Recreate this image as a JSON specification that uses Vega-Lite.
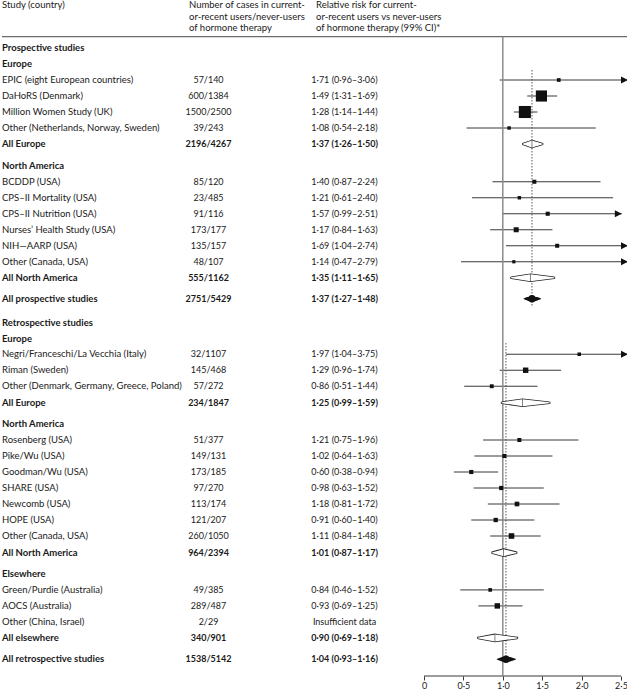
{
  "$schema": "https://vega.github.io/schema/vega-lite/v6.json",
  "padding": {"left": 1, "top": 0, "right": 0, "bottom": 0},
  "bounds": "flush",
  "spacing": 0,
  "config": {
    "view": {"stroke": null},
    "font": "Lato",
    "text": {"font": "Lato", "fontSize": 9.5, "color": "#1a1a1a"},
    "concat": {"spacing": 0}
  },
  "datasets": {
    "rows": [
      {"row": 0, "type": "header", "study": "Prospective studies"},
      {"row": 1, "type": "header", "study": "Europe"},
      {"row": 2, "type": "study", "study": "EPIC (eight European countries)", "cases": "57/140", "rr": "1·71 (0·96–3·06)", "est": 1.71, "lo": 0.96, "hi": 3.06, "weight": 19.8},
      {"row": 3, "type": "study", "study": "DaHoRS (Denmark)", "cases": "600/1384", "rr": "1·49 (1·31–1·69)", "est": 1.49, "lo": 1.31, "hi": 1.69, "weight": 409},
      {"row": 4, "type": "study", "study": "Million Women Study (UK)", "cases": "1500/2500", "rr": "1·28 (1·14–1·44)", "est": 1.28, "lo": 1.14, "hi": 1.44, "weight": 486},
      {"row": 5, "type": "study", "study": "Other (Netherlands, Norway, Sweden)", "cases": "39/243", "rr": "1·08 (0·54–2·18)", "est": 1.08, "lo": 0.54, "hi": 2.18, "weight": 13.6},
      {"row": 6, "type": "subtotal", "study": "All Europe", "cases": "2196/4267", "rr": "1·37 (1·26–1·50)", "est": 1.37, "lo": 1.26, "hi": 1.50},
      {"row": 7.36, "type": "header", "study": "North America"},
      {"row": 8.36, "type": "study", "study": "BCDDP (USA)", "cases": "85/120", "rr": "1·40 (0·87–2·24)", "est": 1.40, "lo": 0.87, "hi": 2.24, "weight": 29.7},
      {"row": 9.36, "type": "study", "study": "CPS–II Mortality (USA)", "cases": "23/485", "rr": "1·21 (0·61–2·40)", "est": 1.21, "lo": 0.61, "hi": 2.40, "weight": 14.1},
      {"row": 10.36, "type": "study", "study": "CPS–II Nutrition (USA)", "cases": "91/116", "rr": "1·57 (0·99–2·51)", "est": 1.57, "lo": 0.99, "hi": 2.51, "weight": 30.7},
      {"row": 11.36, "type": "study", "study": "Nurses’ Health Study (USA)", "cases": "173/177", "rr": "1·17 (0·84–1·63)", "est": 1.17, "lo": 0.84, "hi": 1.63, "weight": 60.4},
      {"row": 12.36, "type": "study", "study": "NIH—AARP (USA)", "cases": "135/157", "rr": "1·69 (1·04–2·74)", "est": 1.69, "lo": 1.04, "hi": 2.74, "weight": 28.3},
      {"row": 13.36, "type": "study", "study": "Other (Canada, USA)", "cases": "48/107", "rr": "1·14 (0·47–2·79)", "est": 1.14, "lo": 0.47, "hi": 2.79, "weight": 8.4},
      {"row": 14.36, "type": "subtotal", "study": "All North America", "cases": "555/1162", "rr": "1·35 (1·11–1·65)", "est": 1.35, "lo": 1.11, "hi": 1.65},
      {"row": 15.67, "type": "total", "study": "All prospective studies", "cases": "2751/5429", "rr": "1·37 (1·27–1·48)", "est": 1.37, "lo": 1.27, "hi": 1.48},
      {"row": 17.16, "type": "header", "study": "Retrospective studies"},
      {"row": 18.16, "type": "header", "study": "Europe"},
      {"row": 19.14, "type": "study", "study": "Negri/Franceschi/La Vecchia (Italy)", "cases": "32/1107", "rr": "1·97 (1·04–3·75)", "est": 1.97, "lo": 1.04, "hi": 3.75, "weight": 16.1},
      {"row": 20.14, "type": "study", "study": "Riman (Sweden)", "cases": "145/468", "rr": "1·29 (0·96–1·74)", "est": 1.29, "lo": 0.96, "hi": 1.74, "weight": 75},
      {"row": 21.14, "type": "study", "study": "Other (Denmark, Germany, Greece, Poland)", "cases": "57/272", "rr": "0·86 (0·51–1·44)", "est": 0.86, "lo": 0.51, "hi": 1.44, "weight": 24.6},
      {"row": 22.17, "type": "subtotal", "study": "All Europe", "cases": "234/1847", "rr": "1·25 (0·99–1·59)", "est": 1.25, "lo": 0.99, "hi": 1.59},
      {"row": 23.5, "type": "header", "study": "North America"},
      {"row": 24.5, "type": "study", "study": "Rosenberg (USA)", "cases": "51/377", "rr": "1·21 (0·75–1·96)", "est": 1.21, "lo": 0.75, "hi": 1.96, "weight": 28.8},
      {"row": 25.5, "type": "study", "study": "Pike/Wu (USA)", "cases": "149/131", "rr": "1·02 (0·64–1·63)", "est": 1.02, "lo": 0.64, "hi": 1.63, "weight": 30.4},
      {"row": 26.5, "type": "study", "study": "Goodman/Wu (USA)", "cases": "173/185", "rr": "0·60 (0·38–0·94)", "est": 0.60, "lo": 0.38, "hi": 0.94, "weight": 32.4},
      {"row": 27.5, "type": "study", "study": "SHARE (USA)", "cases": "97/270", "rr": "0·98 (0·63–1·52)", "est": 0.98, "lo": 0.63, "hi": 1.52, "weight": 34.2},
      {"row": 28.5, "type": "study", "study": "Newcomb (USA)", "cases": "113/174", "rr": "1·18 (0·81–1·72)", "est": 1.18, "lo": 0.81, "hi": 1.72, "weight": 46.8},
      {"row": 29.5, "type": "study", "study": "HOPE (USA)", "cases": "121/207", "rr": "0·91 (0·60–1·40)", "est": 0.91, "lo": 0.60, "hi": 1.40, "weight": 37},
      {"row": 30.5, "type": "study", "study": "Other (Canada, USA)", "cases": "260/1050", "rr": "1·11 (0·84–1·48)", "est": 1.11, "lo": 0.84, "hi": 1.48, "weight": 82.7},
      {"row": 31.54, "type": "subtotal", "study": "All North America", "cases": "964/2394", "rr": "1·01 (0·87–1·17)", "est": 1.01, "lo": 0.87, "hi": 1.17},
      {"row": 32.87, "type": "header", "study": "Elsewhere"},
      {"row": 33.87, "type": "study", "study": "Green/Purdie (Australia)", "cases": "49/385", "rr": "0·84 (0·46–1·52)", "est": 0.84, "lo": 0.46, "hi": 1.52, "weight": 18.6},
      {"row": 34.87, "type": "study", "study": "AOCS (Australia)", "cases": "289/487", "rr": "0·93 (0·69–1·25)", "est": 0.93, "lo": 0.69, "hi": 1.25, "weight": 75.2},
      {"row": 35.87, "type": "nodata", "study": "Other (China, Israel)", "cases": "2/29", "rr": "Insufficient data"},
      {"row": 36.87, "type": "subtotal", "study": "All elsewhere", "cases": "340/901", "rr": "0·90 (0·69–1·18)", "est": 0.90, "lo": 0.69, "hi": 1.18},
      {"row": 38.2, "type": "total", "study": "All retrospective studies", "cases": "1538/5142", "rr": "1·04 (0·93–1·16)", "est": 1.04, "lo": 0.93, "hi": 1.16}
    ]
  },
  "hconcat": [
    {
      "width": 187, "height": 676,
      "data": {"name": "rows"},
      "layer": [
        {"data": {"values": [{}]}, "mark": {"type": "rule", "color": "#6b6b6b", "strokeWidth": 1.2},
         "encoding": {"y": {"datum": -0.71, "type": "quantitative", "scale": {"domain": [-3, 39.25], "reverse": true, "nice": false, "zero": false}, "axis": null}}},
        {"data": {"values": [{}]}, "mark": {"type": "text", "align": "left", "baseline": "top", "lineHeight": 11.7},
         "encoding": {"x": {"datum": 0, "type": "quantitative", "scale": {"domain": [0, 1]}, "axis": null},
                      "y": {"datum": -3, "type": "quantitative", "scale": {"domain": [-3, 39.25], "reverse": true, "nice": false, "zero": false}, "axis": null},
                      "text": {"value": "Study (country)"}}},
        {"transform": [{"filter": "datum.type === 'study' || datum.type === 'nodata'"}],
         "mark": {"type": "text", "align": "left", "baseline": "middle"},
         "encoding": {"x": {"datum": 0, "type": "quantitative", "scale": {"domain": [0, 1]}, "axis": null},
                      "y": {"field": "row", "type": "quantitative", "scale": {"domain": [-3, 39.25], "reverse": true, "nice": false, "zero": false}, "axis": null},
                      "text": {"field": "study"}}},
        {"transform": [{"filter": "datum.type !== 'study' && datum.type !== 'nodata'"}],
         "mark": {"type": "text", "align": "left", "baseline": "middle", "fontWeight": "bold"},
         "encoding": {"x": {"datum": 0, "type": "quantitative", "scale": {"domain": [0, 1]}, "axis": null},
                      "y": {"field": "row", "type": "quantitative", "scale": {"domain": [-3, 39.25], "reverse": true, "nice": false, "zero": false}, "axis": null},
                      "text": {"field": "study"}}}
      ]
    },
    {
      "width": 39, "height": 676,
      "data": {"name": "rows"},
      "layer": [
        {"data": {"values": [{}]}, "mark": {"type": "rule", "color": "#6b6b6b", "strokeWidth": 1.2},
         "encoding": {"y": {"datum": -0.71, "type": "quantitative", "scale": {"domain": [-3, 39.25], "reverse": true, "nice": false, "zero": false}, "axis": null}}},
        {"data": {"values": [{}]}, "mark": {"type": "text", "align": "left", "baseline": "top", "lineHeight": 11.7},
         "encoding": {"x": {"datum": 0, "type": "quantitative", "scale": {"domain": [0, 1]}, "axis": null},
                      "y": {"datum": -3, "type": "quantitative", "scale": {"domain": [-3, 39.25], "reverse": true, "nice": false, "zero": false}, "axis": null},
                      "text": {"value": ["Number of cases in current-", "or-recent users/never-users", "of hormone therapy"]}}},
        {"transform": [{"filter": "datum.type === 'study' || datum.type === 'nodata'"}],
         "mark": {"type": "text", "align": "center", "baseline": "middle", "fontSize": 9},
         "encoding": {"y": {"field": "row", "type": "quantitative", "scale": {"domain": [-3, 39.25], "reverse": true, "nice": false, "zero": false}, "axis": null},
                      "text": {"field": "cases"}}},
        {"transform": [{"filter": "datum.type === 'subtotal' || datum.type === 'total'"}],
         "mark": {"type": "text", "align": "center", "baseline": "middle", "fontWeight": "bold", "fontSize": 9},
         "encoding": {"y": {"field": "row", "type": "quantitative", "scale": {"domain": [-3, 39.25], "reverse": true, "nice": false, "zero": false}, "axis": null},
                      "text": {"field": "cases"}}}
      ]
    },
    {
      "width": 88, "height": 676,
      "data": {"values": [{}]},
      "mark": {"type": "rule", "color": "#6b6b6b", "strokeWidth": 1.2},
      "encoding": {"y": {"datum": -0.71, "type": "quantitative", "scale": {"domain": [-3, 39.25], "reverse": true, "nice": false, "zero": false}, "axis": null}}
    },
    {
      "width": 57, "height": 676,
      "data": {"name": "rows"},
      "layer": [
        {"data": {"values": [{}]}, "mark": {"type": "rule", "color": "#6b6b6b", "strokeWidth": 1.2},
         "encoding": {"y": {"datum": -0.71, "type": "quantitative", "scale": {"domain": [-3, 39.25], "reverse": true, "nice": false, "zero": false}, "axis": null}}},
        {"data": {"values": [{}]}, "mark": {"type": "text", "align": "left", "baseline": "top", "lineHeight": 11.7},
         "encoding": {"x": {"datum": 0, "type": "quantitative", "scale": {"domain": [0, 1]}, "axis": null},
                      "y": {"datum": -3, "type": "quantitative", "scale": {"domain": [-3, 39.25], "reverse": true, "nice": false, "zero": false}, "axis": null},
                      "text": {"value": ["Relative risk for current-", "or-recent users vs never-users", "of hormone therapy (99% CI)*"]}}},
        {"transform": [{"filter": "datum.type === 'study' || datum.type === 'nodata'"}],
         "mark": {"type": "text", "align": "center", "baseline": "middle", "fontSize": 9},
         "encoding": {"y": {"field": "row", "type": "quantitative", "scale": {"domain": [-3, 39.25], "reverse": true, "nice": false, "zero": false}, "axis": null},
                      "text": {"field": "rr"}}},
        {"transform": [{"filter": "datum.type === 'subtotal' || datum.type === 'total'"}],
         "mark": {"type": "text", "align": "center", "baseline": "middle", "fontWeight": "bold", "fontSize": 9},
         "encoding": {"y": {"field": "row", "type": "quantitative", "scale": {"domain": [-3, 39.25], "reverse": true, "nice": false, "zero": false}, "axis": null},
                      "text": {"field": "rr"}}}
      ]
    },
    {
      "width": 255, "height": 676,
      "data": {"name": "rows"},
      "layer": [
        {"data": {"values": [{}]}, "mark": {"type": "rule", "color": "#6b6b6b", "strokeWidth": 1.2},
         "encoding": {"y": {"datum": -0.71, "type": "quantitative", "scale": {"domain": [-3, 39.25], "reverse": true, "nice": false, "zero": false}, "axis": null}}},
        {"transform": [{"filter": "datum.type === 'study' && isValid(datum.est)"}],
         "mark": {"type": "rule", "color": "#222222", "strokeWidth": 0.9},
         "encoding": {
           "x": {"field": "lo", "type": "quantitative", "title": null,
                 "scale": {"domain": [-0.6472, 2.5888], "nice": false, "zero": false, "clamp": true},
                 "axis": {"values": [0, 0.5, 1, 1.5, 2, 2.5], "labelExpr": "datum.value === 0 ? '0' : replace(format(datum.value, '.1f'), '.', '·')",
                          "domain": false, "grid": false, "ticks": true, "tickSize": 4, "tickColor": "#222222", "tickWidth": 0.9,
                          "labelPadding": 1, "labelFontSize": 9, "labelFont": "Lato", "labelColor": "#1a1a1a", "title": null}},
           "x2": {"field": "hi"},
           "y": {"field": "row", "type": "quantitative", "scale": {"domain": [-3, 39.25], "reverse": true, "nice": false, "zero": false}, "axis": null}
         }},
        {"data": {"values": [{}]}, "mark": {"type": "rule", "color": "#222222", "strokeWidth": 0.9},
         "encoding": {"x": {"datum": 0, "type": "quantitative", "title": null}, "x2": {"datum": 2.5},
                      "y": {"datum": 39.25, "type": "quantitative", "axis": null}}},
        {"data": {"values": [{}]}, "mark": {"type": "rule", "color": "#8c8c8c", "strokeWidth": 1.5},
         "encoding": {"x": {"datum": 1, "type": "quantitative", "title": null},
                      "y": {"datum": -0.71, "type": "quantitative", "axis": null}, "y2": {"datum": 39.25}}},
        {"transform": [{"filter": "datum.type === 'total' && datum.row < 20"}],
         "mark": {"type": "rule", "color": "#555555", "strokeWidth": 1, "strokeDash": [1.5, 1.5]},
         "encoding": {"x": {"field": "est", "type": "quantitative", "title": null},
                      "y": {"datum": 1.375, "type": "quantitative", "axis": null}, "y2": {"datum": 16.2}}},
        {"transform": [{"filter": "datum.type === 'total' && datum.row > 20"}],
         "mark": {"type": "rule", "color": "#555555", "strokeWidth": 1, "strokeDash": [1.5, 1.5]},
         "encoding": {"x": {"field": "est", "type": "quantitative", "title": null},
                      "y": {"datum": 18.44, "type": "quantitative", "axis": null}, "y2": {"datum": 38.44}}},
        {"transform": [{"filter": "datum.type === 'study' && datum.hi > 2.5"}],
         "mark": {"type": "point", "shape": "M-2,-1L0,0L-2,1Z", "filled": true, "color": "#111111", "opacity": 1, "size": 49},
         "encoding": {"x": {"field": "hi", "type": "quantitative", "title": null},
                      "y": {"field": "row", "type": "quantitative", "axis": null}}},
        {"transform": [{"filter": "datum.type === 'study' && isValid(datum.est)"}],
         "mark": {"type": "square", "filled": true, "color": "#111111", "opacity": 1},
         "encoding": {"x": {"field": "est", "type": "quantitative", "title": null},
                      "y": {"field": "row", "type": "quantitative", "axis": null},
                      "size": {"field": "weight", "type": "quantitative", "legend": null, "scale": {"domain": [0, 500], "range": [8, 150], "zero": false}}}},
        {"transform": [{"filter": "datum.type === 'subtotal'"}, {"fold": ["lo", "est", "hi"], "as": ["k", "v"]}],
         "mark": {"type": "trail", "fill": "white", "stroke": "#222222", "strokeWidth": 1.6},
         "encoding": {"x": {"field": "v", "type": "quantitative", "title": null},
                      "y": {"field": "row", "type": "quantitative", "axis": null},
                      "detail": {"field": "row", "type": "nominal"},
                      "order": {"field": "v", "type": "quantitative"},
                      "size": {"condition": {"test": "datum.k === 'est'", "value": 7}, "value": 0}}},
        {"transform": [{"filter": "datum.type === 'subtotal'"}, {"fold": ["lo", "est", "hi"], "as": ["k", "v"]}],
         "mark": {"type": "trail", "fill": "white", "color": "white", "strokeWidth": 0},
         "encoding": {"x": {"field": "v", "type": "quantitative", "title": null},
                      "y": {"field": "row", "type": "quantitative", "axis": null},
                      "detail": {"field": "row", "type": "nominal"},
                      "order": {"field": "v", "type": "quantitative"},
                      "size": {"condition": {"test": "datum.k === 'est'", "value": 7}, "value": 0}}},
        {"transform": [{"filter": "datum.type === 'subtotal'"}],
         "mark": {"type": "tick", "orient": "vertical", "color": "#222222", "thickness": 0.8},
         "encoding": {"x": {"field": "est", "type": "quantitative", "title": null},
                      "y": {"field": "row", "type": "quantitative", "axis": null},
                      "size": {"value": 7.5}}},
        {"transform": [{"filter": "datum.type === 'total'"}, {"fold": ["lo", "est", "hi"], "as": ["k", "v"]}],
         "mark": {"type": "trail", "fill": "#111111", "color": "#111111"},
         "encoding": {"x": {"field": "v", "type": "quantitative", "title": null},
                      "y": {"field": "row", "type": "quantitative", "axis": null},
                      "detail": {"field": "row", "type": "nominal"},
                      "order": {"field": "v", "type": "quantitative"},
                      "size": {"condition": {"test": "datum.k === 'est'", "value": 7.5}, "value": 0}}}
      ]
    }
  ]
}
